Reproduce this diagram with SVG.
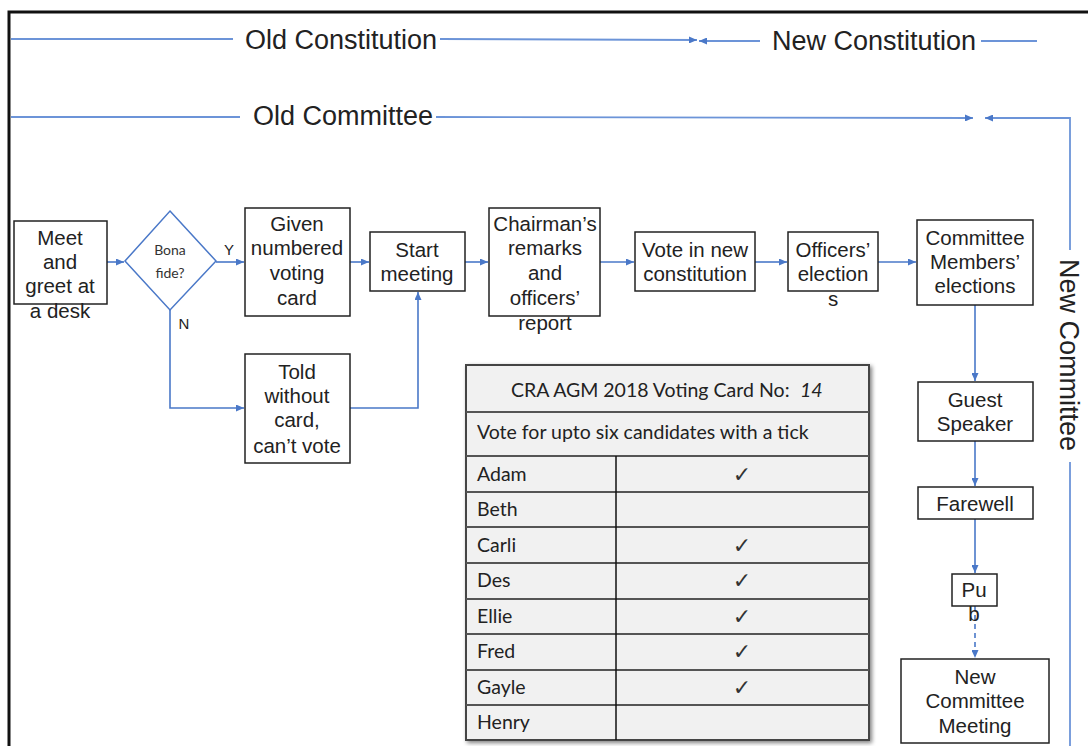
<svg xmlns="http://www.w3.org/2000/svg" width="1088" height="746" viewBox="0 0 1088 746">
<defs>
<style>
.n rect,.n polygon{fill:#fff;stroke:#222;stroke-width:1.5}
.n polygon{stroke:#4a78c8}
.t{font-family:"Liberation Sans",Arial,sans-serif;font-size:20.5px;fill:#222;text-anchor:middle}
.big{font-family:"Liberation Sans",Arial,sans-serif;font-size:27px;fill:#222}
.c{fill:none;stroke:#4a78c8;stroke-width:1.6}
.tl{fill:none;stroke:#6c94d8;stroke-width:1.8}
.tb{font-family:Lato,"Open Sans",sans-serif;font-size:19.5px;fill:#222}
.tk{font-family:"DejaVu Sans",sans-serif;font-size:22px;fill:#333;text-anchor:middle}
.rl{stroke:#555;stroke-width:2}
</style>
<marker id="a" viewBox="0 0 8 7" refX="8" refY="3.5" markerWidth="8" markerHeight="7" markerUnits="userSpaceOnUse" orient="auto"><path d="M0,0 L8,3.5 L0,7 z" fill="#4a78c8"/></marker>
<filter id="sh" x="-5%" y="-5%" width="110%" height="110%"><feGaussianBlur in="SourceAlpha" stdDeviation="2"/><feOffset dx="2" dy="2"/><feComponentTransfer><feFuncA type="linear" slope="0.5"/></feComponentTransfer><feMerge><feMergeNode/><feMergeNode in="SourceGraphic"/></feMerge></filter>
</defs>
<rect width="1088" height="746" fill="#fff"/>
<rect x="9" y="12" width="1090" height="760" fill="none" stroke="#111" stroke-width="3"/>

<g id="timeline">
<line class="tl" x1="11" y1="39" x2="233" y2="39"/>
<text class="big" x="245" y="49">Old Constitution</text>
<line class="tl" x1="440" y1="39" x2="697" y2="40" marker-end="url(#a)"/>
<line class="tl" x1="760" y1="41" x2="699" y2="41" marker-end="url(#a)"/>
<text class="big" x="772" y="50">New Constitution</text>
<line class="tl" x1="981" y1="41" x2="1037" y2="41"/>
<line class="tl" x1="11" y1="117" x2="240" y2="117"/>
<text class="big" x="253" y="125">Old Committee</text>
<line class="tl" x1="436" y1="117" x2="973" y2="118" marker-end="url(#a)"/>
<polyline class="tl" points="1070,250 1070,118 985,118" marker-end="url(#a)"/>
<line class="tl" x1="1070" y1="462" x2="1070" y2="746"/>
<text class="big" transform="translate(1060,355) rotate(90)" text-anchor="middle">New Committee</text>
</g>

<g id="connectors">
<line class="c" x1="107" y1="262" x2="124" y2="262" marker-end="url(#a)"/>
<line class="c" x1="216" y1="262" x2="244" y2="262" marker-end="url(#a)"/>
<polyline class="c" points="170,310 170,408 244,408" marker-end="url(#a)"/>
<line class="c" x1="350" y1="262" x2="369" y2="262" marker-end="url(#a)"/>
<polyline class="c" points="350,408 418,408 418,292" marker-end="url(#a)"/>
<line class="c" x1="465" y1="262" x2="488" y2="262" marker-end="url(#a)"/>
<line class="c" x1="600" y1="262" x2="634" y2="262" marker-end="url(#a)"/>
<line class="c" x1="755" y1="262" x2="787" y2="262" marker-end="url(#a)"/>
<line class="c" x1="878" y1="262" x2="916" y2="262" marker-end="url(#a)"/>
<line class="c" x1="975" y1="305" x2="975" y2="381" marker-end="url(#a)"/>
<line class="c" x1="975" y1="441" x2="975" y2="486" marker-end="url(#a)"/>
<line class="c" x1="975" y1="519" x2="975" y2="573" marker-end="url(#a)"/>
<line class="c" x1="975" y1="606" x2="975" y2="658" stroke-dasharray="5,4" marker-end="url(#a)"/>
<text x="229" y="255" style="font-family:'Liberation Sans',sans-serif;font-size:15px;fill:#222" text-anchor="middle">Y</text>
<text x="184" y="329" style="font-family:'Liberation Sans',sans-serif;font-size:15px;fill:#222" text-anchor="middle">N</text>
</g>

<g id="meet" class="n"><rect x="14" y="221" width="93" height="83"/>
<text class="t"><tspan x="60" y="245">Meet</tspan><tspan x="60" y="269">and</tspan><tspan x="60" y="293">greet at</tspan><tspan x="60" y="318">a desk</tspan></text></g>

<g id="bona" class="n"><polygon points="170,211 216,261 170,310 125,261"/>
<text style="font-family:Lato,'Open Sans',sans-serif;font-size:14px;fill:#333" text-anchor="middle"><tspan x="170" y="255">Bona</tspan><tspan x="170" y="278">fide?</tspan></text></g>

<g id="given" class="n"><rect x="245" y="208" width="105" height="108"/>
<text class="t"><tspan x="297" y="231">Given</tspan><tspan x="297" y="255">numbered</tspan><tspan x="297" y="280">voting</tspan><tspan x="297" y="305">card</tspan></text></g>

<g id="told" class="n"><rect x="245" y="354" width="105" height="109"/>
<text class="t"><tspan x="297" y="379">Told</tspan><tspan x="297" y="403">without</tspan><tspan x="297" y="427">card,</tspan><tspan x="297" y="453">can’t vote</tspan></text></g>

<g id="start" class="n"><rect x="370" y="232" width="95" height="59"/>
<text class="t"><tspan x="417" y="257">Start</tspan><tspan x="417" y="281">meeting</tspan></text></g>

<g id="chair" class="n"><rect x="489" y="208" width="111" height="108"/>
<text class="t"><tspan x="545" y="231">Chairman’s</tspan><tspan x="545" y="255">remarks</tspan><tspan x="545" y="280">and</tspan><tspan x="545" y="305">officers’</tspan><tspan x="545" y="330">report</tspan></text></g>

<g id="vote" class="n"><rect x="635" y="232" width="120" height="59"/>
<text class="t"><tspan x="695" y="257">Vote in new</tspan><tspan x="695" y="281">constitution</tspan></text></g>

<g id="officers" class="n"><rect x="788" y="232" width="90" height="59"/>
<text class="t"><tspan x="833" y="257">Officers’</tspan><tspan x="833" y="281">election</tspan><tspan x="833" y="306">s</tspan></text></g>

<g id="cme" class="n"><rect x="917" y="220" width="116" height="85"/>
<text class="t"><tspan x="975" y="245">Committee</tspan><tspan x="975" y="269">Members’</tspan><tspan x="975" y="293">elections</tspan></text></g>

<g id="guest" class="n"><rect x="918" y="382" width="115" height="59"/>
<text class="t"><tspan x="975" y="407">Guest</tspan><tspan x="975" y="431">Speaker</tspan></text></g>

<g id="farewell" class="n"><rect x="918" y="487" width="115" height="32"/>
<text class="t" x="975" y="511">Farewell</text></g>

<g id="pub" class="n"><rect x="952" y="574" width="45" height="32"/>
<text class="t"><tspan x="974" y="597">Pu</tspan><tspan x="974" y="621">b</tspan></text></g>

<g id="ncm" class="n"><rect x="901" y="659" width="148" height="84"/>
<text class="t"><tspan x="975" y="684">New</tspan><tspan x="975" y="708">Committee</tspan><tspan x="975" y="733">Meeting</tspan></text></g>

<g id="card">
<rect x="466" y="365" width="403" height="375" fill="#f1f1f1" stroke="#444" stroke-width="2" filter="url(#sh)"/>
<line class="rl" x1="466" y1="412" x2="869" y2="412"/>
<line class="rl" x1="466" y1="456" x2="869" y2="456"/>
<line class="rl" x1="466" y1="492" x2="869" y2="492"/>
<line class="rl" x1="466" y1="527" x2="869" y2="527"/>
<line class="rl" x1="466" y1="563" x2="869" y2="563"/>
<line class="rl" x1="466" y1="599" x2="869" y2="599"/>
<line class="rl" x1="466" y1="634" x2="869" y2="634"/>
<line class="rl" x1="466" y1="670" x2="869" y2="670"/>
<line class="rl" x1="466" y1="705" x2="869" y2="705"/>
<line x1="616" y1="456" x2="616" y2="740" stroke="#111" stroke-width="1.5"/>
<text class="tb" x="511" y="397">CRA AGM 2018 Voting Card</text>
<text class="tb" x="759" y="397">No:</text>
<text class="tb" x="800" y="397" font-style="italic">14</text>
<text class="tb" x="477" y="439">Vote for upto six candidates with a tick</text>
<text class="tb" x="477" y="481">Adam</text>
<text class="tb" x="477" y="516">Beth</text>
<text class="tb" x="477" y="552">Carli</text>
<text class="tb" x="477" y="587">Des</text>
<text class="tb" x="477" y="623">Ellie</text>
<text class="tb" x="477" y="658">Fred</text>
<text class="tb" x="477" y="694">Gayle</text>
<text class="tb" x="477" y="729">Henry</text>
<text class="tk" x="742" y="482">✓</text>
<text class="tk" x="742" y="553">✓</text>
<text class="tk" x="742" y="588">✓</text>
<text class="tk" x="742" y="624">✓</text>
<text class="tk" x="742" y="659">✓</text>
<text class="tk" x="742" y="695">✓</text>
</g>
</svg>
